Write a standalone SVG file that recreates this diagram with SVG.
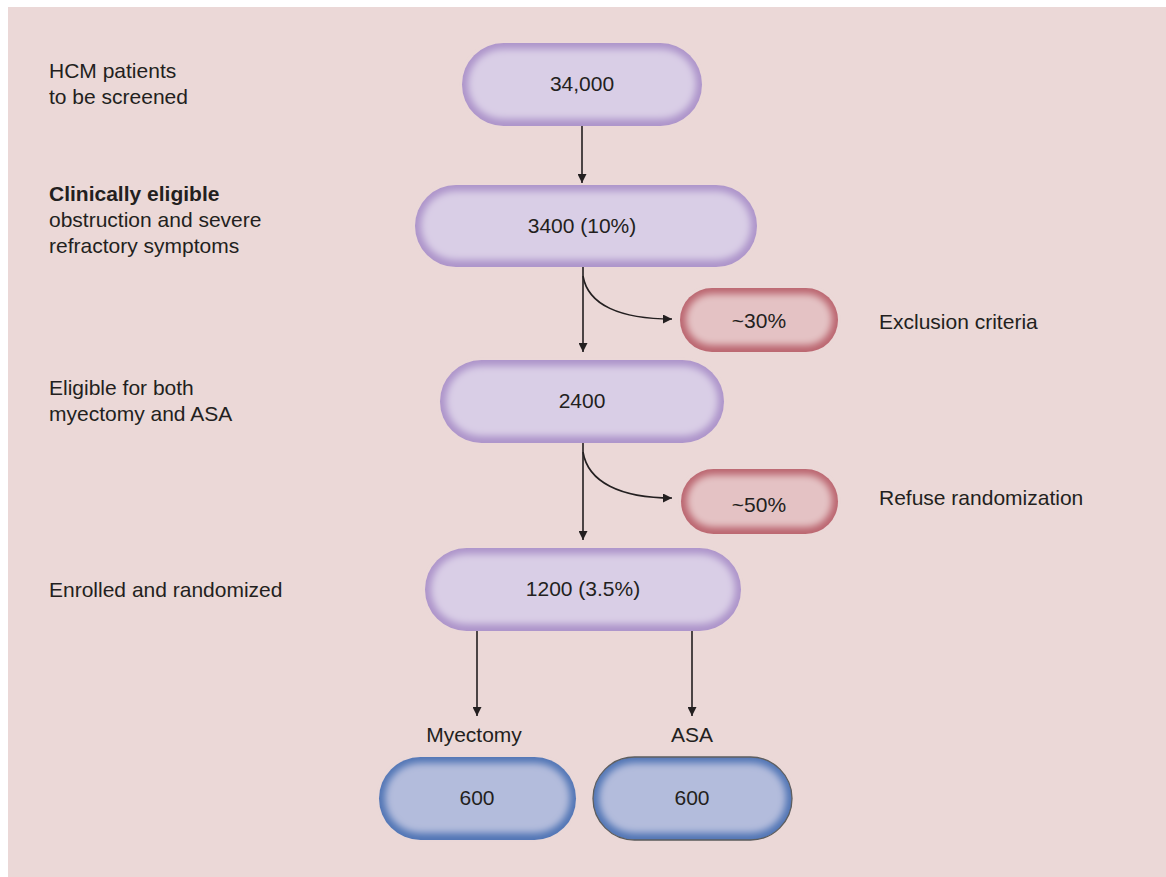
<svg xmlns="http://www.w3.org/2000/svg" width="1166" height="877" viewBox="0 0 1166 877">
<style>
text{font-family:"Liberation Sans",Arial,sans-serif;font-size:21px;fill:#231f20}
.c{text-anchor:middle}
.b{font-weight:bold}
.ln{fill:none;stroke:#231f20;stroke-width:1.6}
.pe{fill:#ad94ca}
.pc{fill:#d9cee6}
.re{fill:#bb6670}
.rc{fill:#e4c2c4}
.be{fill:#5175b5}
.bc{fill:#b3bcdc}
</style>
<defs>
<filter id="soft" x="-10%" y="-20%" width="120%" height="140%"><feGaussianBlur stdDeviation="3.5"/></filter>
<marker id="ah" viewBox="0 0 10 10" refX="10" refY="5" markerWidth="11" markerHeight="9" markerUnits="userSpaceOnUse" orient="auto"><path d="M0,0 L10,5 L0,10 z" fill="#231f20"/></marker>
</defs>
<rect x="8" y="7" width="1158" height="870" fill="#ebd8d7"/>

<g id="connectors">
<path class="ln" d="M582,126 V183" marker-end="url(#ah)"/>
<path class="ln" d="M583,267 V352" marker-end="url(#ah)"/>
<path class="ln" d="M583,276 C588,305 620,319 672,319" marker-end="url(#ah)"/>
<path class="ln" d="M583,443 V540" marker-end="url(#ah)"/>
<path class="ln" d="M583,452 C588,482 620,498 672,498" marker-end="url(#ah)"/>
<path class="ln" d="M477,631 V716" marker-end="url(#ah)"/>
<path class="ln" d="M692,631 V716" marker-end="url(#ah)"/>
</g>

<g id="n1">
<rect class="pe" x="462" y="43" width="240" height="83" rx="41.5"/>
<rect class="pc" x="468" y="49" width="228" height="70" rx="35" filter="url(#soft)"/>
<text class="c" x="582" y="91">34,000</text>
</g>
<g id="n2">
<rect class="pe" x="415" y="185" width="342" height="82" rx="41"/>
<rect class="pc" x="421" y="191" width="330" height="69" rx="34.5" filter="url(#soft)"/>
<text class="c" x="582" y="233">3400 (10%)</text>
</g>
<g id="r1">
<rect class="re" x="680" y="288" width="158" height="64" rx="32"/>
<rect class="rc" x="686" y="294" width="146" height="51" rx="25.5" filter="url(#soft)"/>
<text class="c" x="759" y="328">~30%</text>
</g>
<g id="n3">
<rect class="pe" x="440" y="360" width="284" height="83" rx="41.5"/>
<rect class="pc" x="446" y="366" width="272" height="70" rx="35" filter="url(#soft)"/>
<text class="c" x="582" y="408">2400</text>
</g>
<g id="r2">
<rect class="re" x="681" y="469" width="157" height="65" rx="32.5"/>
<rect class="rc" x="687" y="475" width="145" height="52" rx="26" filter="url(#soft)"/>
<text class="c" x="759" y="512">~50%</text>
</g>
<g id="n4">
<rect class="pe" x="425" y="548" width="316" height="83" rx="41.5"/>
<rect class="pc" x="431" y="554" width="304" height="70" rx="35" filter="url(#soft)"/>
<text class="c" x="583" y="596">1200 (3.5%)</text>
</g>
<g id="b1">
<rect class="be" x="379" y="757" width="197" height="83" rx="41.5"/>
<rect class="bc" x="385" y="763" width="185" height="70" rx="35" filter="url(#soft)"/>
<text class="c" x="477" y="805">600</text>
</g>
<g id="b2">
<rect class="be" x="593" y="757" width="199" height="83" rx="41.5" stroke="#5a5a5a" stroke-width="1.3"/>
<rect class="bc" x="599" y="763" width="187" height="70" rx="35" filter="url(#soft)"/>
<text class="c" x="692" y="805">600</text>
</g>

<g id="labels">
<text x="49" y="78">HCM patients</text>
<text x="49" y="104">to be screened</text>
<text class="b" x="49" y="201">Clinically eligible</text>
<text x="49" y="227">obstruction and severe</text>
<text x="49" y="253">refractory symptoms</text>
<text x="49" y="395">Eligible for both</text>
<text x="49" y="421">myectomy and ASA</text>
<text x="49" y="597">Enrolled and randomized</text>
<text x="879" y="329">Exclusion criteria</text>
<text x="879" y="505">Refuse randomization</text>
<text class="c" x="474" y="742">Myectomy</text>
<text class="c" x="692" y="742">ASA</text>
</g>
</svg>
